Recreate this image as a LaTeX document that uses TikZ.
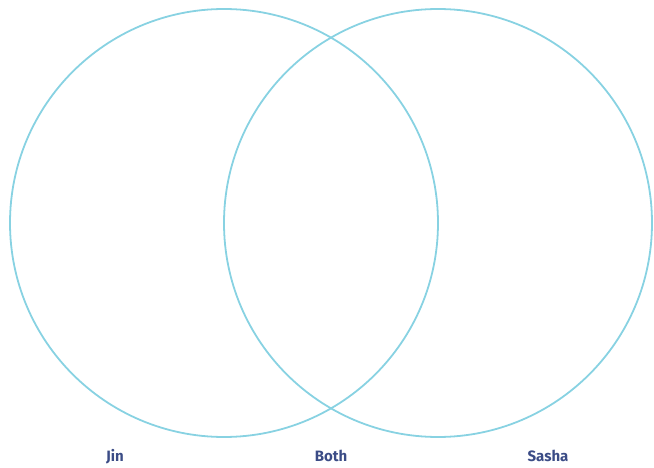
\documentclass[tikz,border=0pt]{standalone}
\usepackage{fontspec}
\setmainfont{Fira Sans}
\definecolor{ring}{HTML}{88D2E2}
\definecolor{lbl}{HTML}{3B4C86}
\begin{document}
\begin{tikzpicture}[x=1pt,y=1pt,
  ring/.style={draw=ring,line width=1.8pt},
  lbl/.style={text=lbl,font=\fontsize{15}{17}\selectfont\bfseries,anchor=base}]
\useasboundingbox (0,0) rectangle (654,467);
\draw[ring] (224,244) circle[radius=214];
\draw[ring] (438,244) circle[radius=214];
\node[lbl] (jin) at (115,6) {Jin};
\node[lbl] (both) at (331,6) {Both};
\node[lbl] (sasha) at (548,6) {Sasha};
\end{tikzpicture}
\end{document}
